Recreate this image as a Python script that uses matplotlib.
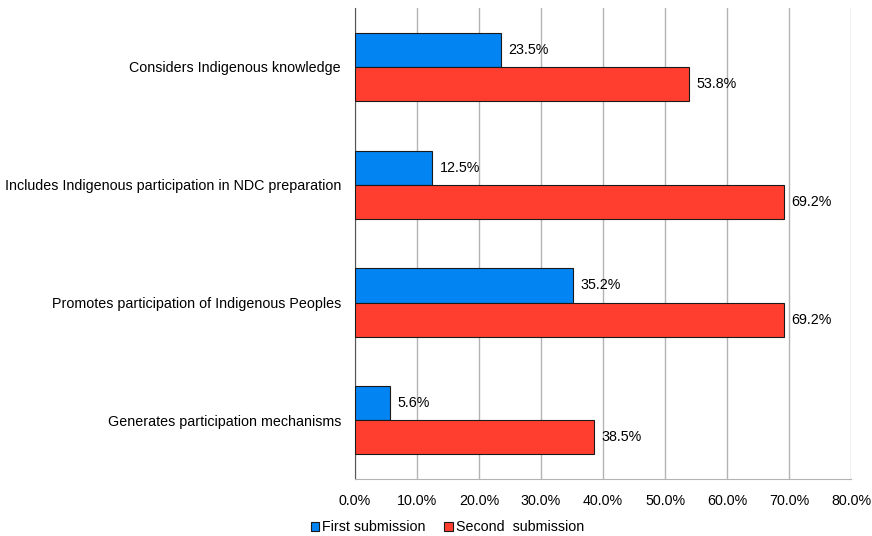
import matplotlib.pyplot as plt
import numpy as np
from matplotlib.ticker import FuncFormatter

plt.rcParams['font.family'] = ['Liberation Sans', 'DejaVu Sans']

categories = ["Considers Indigenous knowledge",
              "Includes Indigenous participation in NDC preparation",
              "Promotes participation of Indigenous Peoples",
              "Generates participation mechanisms"]
first_sub = [23.5, 12.5, 35.2, 5.6]
second_sub = [53.8, 69.2, 69.2, 38.5]

fs = 10.3
fig = plt.figure(figsize=(8.72, 5.36), dpi=100)
ax = fig.add_axes([0.407, 0.106, 0.569, 0.879])

y = np.arange(len(categories))
h = 0.29
b1 = ax.barh(y - h / 2, first_sub, height=h, color="#0284f2", edgecolor="#1a1a1a",
             linewidth=0.8, label="First submission", zorder=3)
b2 = ax.barh(y + h / 2, second_sub, height=h, color="#ff3e30", edgecolor="#1a1a1a",
             linewidth=0.8, label="Second  submission", zorder=3)

for bars, vals in [(b1, first_sub), (b2, second_sub)]:
    for bar, v in zip(bars, vals):
        ax.text(v + 1.2, bar.get_y() + bar.get_height() / 2, f"{v:.1f}%",
                va="center", ha="left", fontsize=fs)

ax.set_xlim(0, 80)
ax.set_ylim(len(categories) - 0.5, -0.5)
ax.set_xticks(np.arange(0, 81, 10))
ax.xaxis.set_major_formatter(FuncFormatter(lambda v, p: f"{v:.1f}%"))
ax.set_yticks(y)
ax.set_yticklabels(categories, fontsize=fs)
ax.tick_params(axis="x", labelsize=fs, length=0, pad=11)
ax.tick_params(axis="y", length=0, pad=10)
ax.grid(axis="x", color="#b3b3b3", linewidth=1, zorder=0)

for s in ["top", "right"]:
    ax.spines[s].set_visible(False)
ax.spines["left"].set_color("#555555")
ax.spines["bottom"].set_color("#b3b3b3")

fig.legend(handles=[b1, b2], loc="center", bbox_to_anchor=(0.513, 0.016), ncol=2,
           frameon=False, fontsize=fs, handlelength=0.6, handleheight=0.6,
           handletextpad=0.2, columnspacing=1.3)

fig.savefig("out.png", dpi=100)
